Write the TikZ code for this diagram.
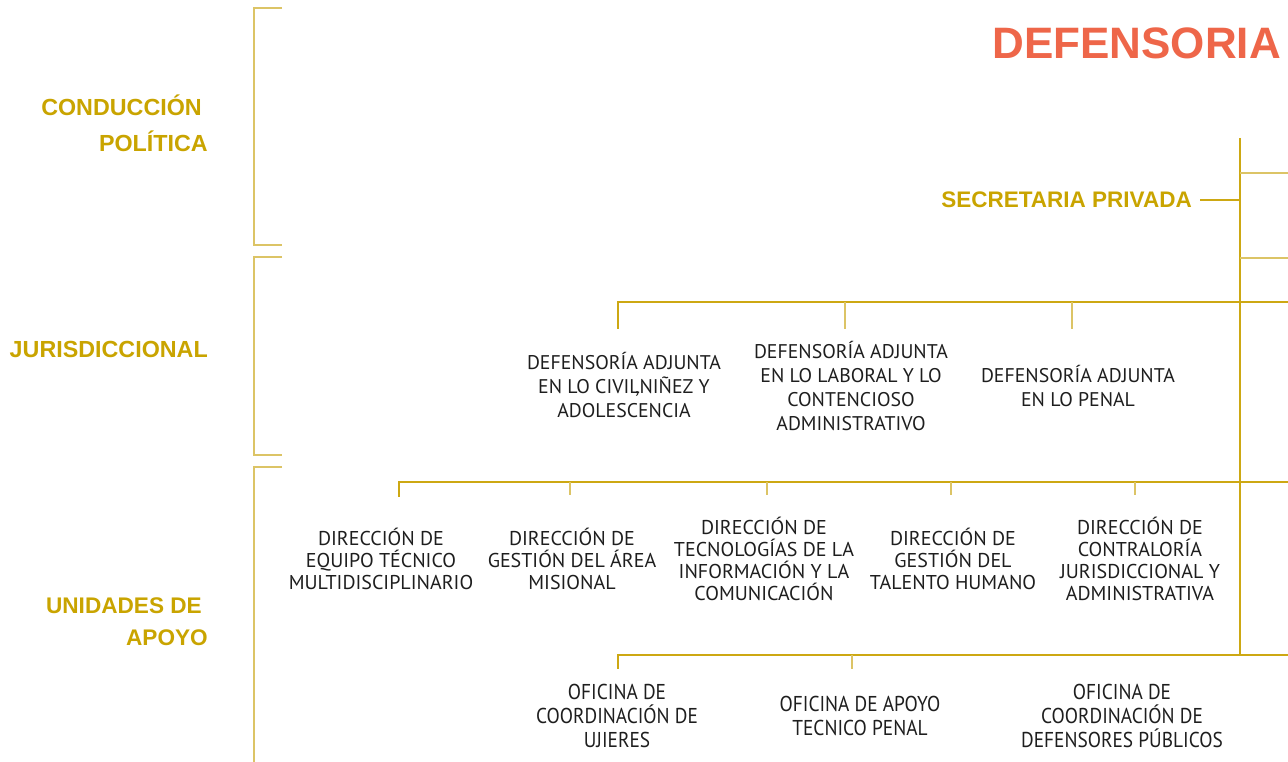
\documentclass[tikz,border=0pt]{standalone}
\usepackage{fontspec}
\setmainfont{PT Sans}
\newfontfamily\labelfont{Liberation Sans}
\newfontfamily\narrowfont[FakeStretch=0.9]{PT Sans}
\definecolor{gold}{HTML}{C9A400}
\definecolor{goldline}{HTML}{CDA813}
\definecolor{goldlight}{HTML}{DCC466}
\definecolor{titlec}{HTML}{EE6649}
\definecolor{ink}{HTML}{1E1E1E}
\begin{document}
\begin{tikzpicture}[x=1pt,y=-1pt,
  sidelabel/.style={font=\labelfont\bfseries\fontsize{23.3}{36}\selectfont, text=gold, align=right, inner sep=0, anchor=east},
  unit/.style={font=\fontsize{19.8}{24}\selectfont, text=ink, align=center, inner sep=0},
  unitb/.style={font=\fontsize{20}{22}\selectfont, text=ink, align=center, inner sep=0},
  office/.style={font=\narrowfont\fontsize{21.5}{24}\selectfont, text=ink, align=center, inner sep=0},
  bus/.style={draw=goldline, line width=1.5pt},
  drop/.style={draw=goldlight, line width=1.2pt},
  spine/.style={draw=goldline, line width=2.2pt},
  bracket/.style={draw=goldlight, line width=1.3pt},
]
\useasboundingbox (0,0) rectangle (1288,762);

% title
\node[font=\labelfont\bfseries\fontsize{44}{50}\selectfont, text=titlec, anchor=east, inner sep=0] (title) at (1281,43) {DEFENSORIA};

% side brackets
\draw[bracket] (282,8) -- (254,8) -- (254,245) -- (282,245);
\draw[bracket] (282,257) -- (254,257) -- (254,455) -- (282,455);
\draw[bracket] (282,467) -- (254,467) -- (254,770);

% side labels
\node[sidelabel] (cond) at (208,123) {CONDUCCIÓN\hspace*{6pt}\\POLÍTICA};
\node[sidelabel] (juris) at (208,349) {JURISDICCIONAL};
\node[sidelabel, font=\labelfont\bfseries\fontsize{22.6}{32}\selectfont] (apoyo) at (208,622) {UNIDADES DE\hspace*{6pt}\\APOYO};

% spine
\coordinate (spinetop) at (1240,138);
\coordinate (spinebot) at (1240,655);
\draw[spine] (spinetop) -- (spinebot);
\coordinate (r1) at (1288,173);
\coordinate (r2) at (1288,258);
\draw[drop] (spinetop |- r1) -- (r1);
\draw[drop] (spinetop |- r2) -- (r2);

% secretaria privada
\node[sidelabel, font=\labelfont\bfseries\fontsize{22.5}{30}\selectfont] (sec) at (1192,200) {SECRETARIA PRIVADA};
\coordinate (secl) at (1200,200);
\draw[draw=goldline, line width=1.2pt] (secl) -- (spinetop |- secl);

% row 1: defensorias adjuntas
\coordinate (b1l) at (618,302);
\coordinate (b1r) at (1288,302);
\draw[bus] (b1r) -- (b1l) -- ++(0,27);
\node[unit] (da1) at (624,385) {DEFENSORÍA ADJUNTA\\EN LO CIVIL\kern-0.22em,NIÑEZ Y\\ADOLESCENCIA};
\node[unit] (da2) at (851,386) {DEFENSORÍA ADJUNTA\\EN LO LABORAL Y LO\\CONTENCIOSO\\ADMINISTRATIVO};
\node[unit] (da3) at (1078,386) {DEFENSORÍA ADJUNTA\\EN LO PENAL};
\coordinate (d12) at (845,302);
\coordinate (d13) at (1072,302);
\draw[drop] (d12) -- ++(0,27);
\draw[drop] (d13) -- ++(0,27);

% row 2: direcciones
\coordinate (b2l) at (399,482);
\coordinate (b2r) at (1288,482);
\draw[bus] (b2r) -- (b2l) -- ++(0,15);
\node[unitb] (di1) at (381,559) {DIRECCIÓN DE\\EQUIPO TÉCNICO\\MULTIDISCIPLINARIO};
\node[unitb] (di2) at (572,559) {DIRECCIÓN DE\\GESTIÓN DEL ÁREA\\MISIONAL};
\node[unitb] (di3) at (764,559) {DIRECCIÓN DE\\TECNOLOGÍAS DE LA\\INFORMACIÓN Y LA\\COMUNICACIÓN};
\node[unitb] (di4) at (953,559) {DIRECCIÓN DE\\GESTIÓN DEL\\TALENTO HUMANO};
\node[unitb] (di5) at (1140,559) {DIRECCIÓN DE\\CONTRALORÍA\\JURISDICCIONAL Y\\ADMINISTRATIVA};
\foreach \x in {570,767,951,1135}{\draw[drop] (\x,482) -- ++(0,13);}

% row 3: oficinas
\coordinate (b3l) at (618,655);
\coordinate (b3r) at (1288,655);
\draw[bus] (b3r) -- (b3l) -- ++(0,14);
\coordinate (d32) at (852,655);
\draw[drop] (d32) -- ++(0,14);
\node[office] (of1) at (617,716) {OFICINA DE\\COORDINACIÓN DE\\UJIERES};
\node[office] (of2) at (860,716) {OFICINA DE APOYO\\TECNICO PENAL};
\node[office] (of3) at (1122,716) {OFICINA DE\\COORDINACIÓN DE\\DEFENSORES PÚBLICOS};
\end{tikzpicture}
\end{document}
